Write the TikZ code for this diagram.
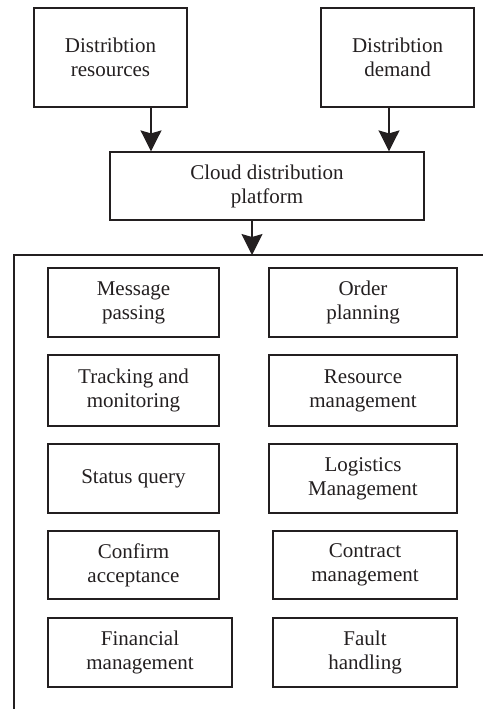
\documentclass[tikz,border=0pt]{standalone}
\usepackage{fontspec}
\setmainfont{Liberation Serif}
\usetikzlibrary{arrows.meta}
\definecolor{ink}{HTML}{231F20}
\begin{document}
\begin{tikzpicture}[x=1pt,y=-1pt,
  box/.style={draw=ink,line width=1.2pt,rectangle,inner sep=0pt,align=center,
    text=ink,font=\fontsize{21}{24}\selectfont},
  arr/.style={draw=ink,line width=1.2pt,-{Stealth[length=21pt,width=21pt,inset=3pt]}},
  frame/.style={draw=ink,line width=1.2pt}]
\useasboundingbox (0,0) rectangle (483,709);
% top boxes
\node[box,minimum width=153pt,minimum height=99pt] (res) at (110.5,57.5) {Distribtion\\resources};
\node[box,minimum width=153pt,minimum height=99pt] (dem) at (397.5,57.5) {Distribtion\\demand};
\node[box,minimum width=314pt,minimum height=68pt] (plat) at (267,186) {Cloud distribution\\platform};
% arrow columns
\coordinate (x1) at (151,0);
\coordinate (x2) at (389,0);
\coordinate (x3) at (252,0);
\coordinate (ctop) at (252,255);
\coordinate (cl) at (14,255);
\coordinate (cr) at (483,255);
\coordinate (cb) at (14,709);
\draw[arr] (x1 |- res.south) -- (x1 |- plat.north);
\draw[arr] (x2 |- dem.south) -- (x2 |- plat.north);
\draw[arr] (x3 |- plat.south) -- (ctop);
% container (top and left edges)
\draw[frame] (cb) -- (cl) -- (cr);
% function boxes
\node[box,minimum width=171pt,minimum height=69pt] (m1) at (133.5,302.5) {Message\\passing};
\node[box,minimum width=188pt,minimum height=69pt] (o1) at (363,302.5) {Order\\planning};
\node[box,minimum width=171pt,minimum height=71pt] (m2) at (133.5,390.5) {Tracking and\\monitoring};
\node[box,minimum width=188pt,minimum height=71pt] (o2) at (363,390.5) {Resource\\management};
\node[box,minimum width=171pt,minimum height=69pt] (m3) at (133.5,478.5) {Status query};
\node[box,minimum width=188pt,minimum height=69pt] (o3) at (363,478.5) {Logistics\\Management};
\node[box,minimum width=171pt,minimum height=68pt] (m4) at (133.5,565) {Confirm\\acceptance};
\node[box,minimum width=184pt,minimum height=68pt] (o4) at (365,565) {Contract\\management};
\node[box,minimum width=184pt,minimum height=69pt] (m5) at (140,652.5) {Financial\\management};
\node[box,minimum width=184pt,minimum height=69pt] (o5) at (365,652.5) {Fault\\handling};
\end{tikzpicture}
\end{document}
